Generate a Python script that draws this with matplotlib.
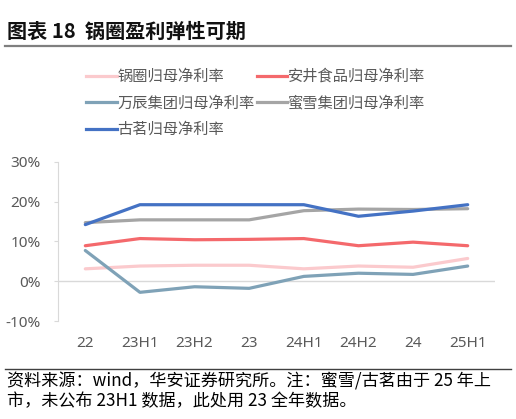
import matplotlib.pyplot as plt
from matplotlib.lines import Line2D

plt.rcParams['font.family'] = ['Noto Sans CJK SC', 'DejaVu Sans']

periods = ['22', '23H1', '23H2', '23', '24H1', '24H2', '24', '25H1']

guoquan = [3.1, 3.8, 4.0, 4.0, 3.1, 3.8, 3.5, 5.7]
anjoy = [8.9, 10.7, 10.4, 10.5, 10.7, 8.9, 9.8, 8.9]
wanchen = [7.7, -2.8, -1.4, -1.8, 1.2, 2.0, 1.7, 3.8]
mixue = [14.7, 15.4, 15.4, 15.4, 17.7, 18.1, 18.0, 18.2]
guming = [14.2, 19.2, 19.2, 19.2, 19.2, 16.3, 17.6, 19.2]

series = [
    ('锅圈归母净利率', guoquan, '#FBCACD'),
    ('安井食品归母净利率', anjoy, '#F4696C'),
    ('万辰集团归母净利率', wanchen, '#7FA2B7'),
    ('蜜雪集团归母净利率', mixue, '#A5A5A5'),
    ('古茗归母净利率', guming, '#4472C4'),
]

fig = plt.figure(figsize=(5.16, 4.19), dpi=100)
ax = fig.add_axes([58 / 516, 1 - 321 / 419, 437 / 516, (321 - 161.7) / 419])

x = range(len(periods))
handles = {}
for name, vals, color in series:
    ax.plot(x, vals, color=color, lw=2.3, solid_capstyle='round')
    handles[name] = Line2D([], [], color=color, lw=2.3)

ax.set_xlim(-0.5, len(periods) - 0.5)
ax.set_ylim(-10, 30)
ax.set_yticks([-10, 0, 10, 20, 30])
ax.set_yticklabels([f'{v}%' for v in [-10, 0, 10, 20, 30]])
ax.set_xticks(list(x))
ax.set_xticklabels(periods)
ax.axhline(0, color='#D9D9D9', lw=1, zorder=0)

for s in ['top', 'right', 'bottom']:
    ax.spines[s].set_visible(False)
ax.spines['left'].set_color('#D9D9D9')
ax.tick_params(axis='y', length=3, color='#D9D9D9', pad=9.5,
               labelcolor='#595959', labelsize=11)
ax.tick_params(axis='x', length=0, pad=11, labelcolor='#595959', labelsize=11)
for lab in ax.get_xticklabels() + ax.get_yticklabels():
    lab.set_fontfamily(['Noto Sans', 'DejaVu Sans'])

# legend, reordered so it reads row by row
order = ['锅圈归母净利率', '万辰集团归母净利率', '古茗归母净利率',
         '安井食品归母净利率', '蜜雪集团归母净利率']
leg = fig.legend([handles[k] for k in order], order, ncol=2,
                 loc='upper left', bbox_to_anchor=(86 / 516, 1 - 68 / 419),
                 frameon=False, fontsize=11, handlelength=2.0,
                 handletextpad=0.05, columnspacing=0.15, labelspacing=0.62,
                 borderpad=0, borderaxespad=0)
for t in leg.get_texts():
    t.set_color('#595959')

# title and footnote
fig.text(7 / 516, 1 - 31 / 419, '图表 18  锅圈盈利弹性可期', fontsize=14.5,
         fontweight='bold', va='center', ha='left', color='#111111',
         family=['Noto Sans CJK SC', 'DejaVu Sans'])
fig.add_artist(Line2D([5 / 516, 511 / 516], [1 - 46 / 419, 1 - 46 / 419],
                      color='#7F7F7F', lw=1.6))
fig.add_artist(Line2D([5 / 516, 511 / 516], [1 - 369 / 419, 1 - 369 / 419],
                      color='#404040', lw=1.0))
fig.text(7 / 516, 1 - 381 / 419,
         '资料来源：wind，华安证券研究所。注：蜜雪/古茗由于 25 年上',
         fontsize=12.3, va='center', ha='left', color='black')
fig.text(7 / 516, 1 - 401 / 419,
         '市，未公布 23H1 数据，此处用 23 全年数据。',
         fontsize=12.3, va='center', ha='left', color='black')

fig.savefig('out.png', dpi=100)
